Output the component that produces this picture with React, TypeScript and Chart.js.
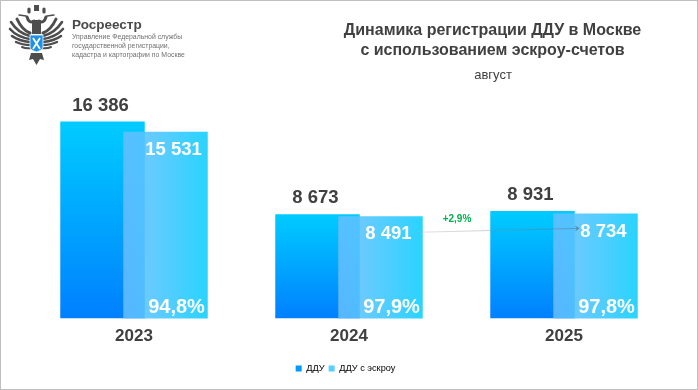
import React, { useEffect, useRef } from "react";
import { Chart, registerables } from "chart.js";

Chart.register(...registerables);

const years = ["2023", "2024", "2025"];
const dduValues = [16386, 8673, 8931];
const escrowValues = [15531, 8491, 8734];
const escrowShare = ["94,8%", "97,9%", "97,8%"];
const dduLabels = ["16 386", "8 673", "8 931"];
const escrowLabels = ["15 531", "8 491", "8 734"];
const seriesNames = ["ДДУ", "ДДУ с эскроу"];
const growthLabel = "+2,9%";
const titleLines = ["Динамика регистрации ДДУ в Москве", "с использованием эскроу-счетов"];
const subtitle = "август";
const orgName = "Росреестр";
const orgLines = ["Управление Федеральной службы", "государственной регистрации,", "кадастра и картографии по Москве"];

const FONT = '"Liberation Sans", Arial, sans-serif';

const labelsPlugin = {
  id: "barLabels",
  afterLayout(chart: any) {
    chart.legend.left -= 3.5;
    chart.legend.right -= 3.5;
  },
  // The escrow bars sit in front of the ДДУ bars: hold them back, then draw them last.
  beforeDatasetDraw(_chart: any, args: any) {
    if (args.index === 1) return false;
  },
  afterDatasetsDraw(chart: any) {
    const { ctx } = chart;
    chart.getDatasetMeta(1).controller.draw();
    const a = chart.getDatasetMeta(0).data;
    const b = chart.getDatasetMeta(1).data;
    ctx.save();
    ctx.textAlign = "center";
    ctx.textBaseline = "middle";
    a.forEach((el: any, i: number) => {
      ctx.fillStyle = "#404040";
      ctx.font = `bold 18.5px ${FONT}`;
      ctx.fillText(dduLabels[i], el.x - 2, el.y - 16);
    });
    // connector between the 2024 and 2025 escrow labels
    const x0 = b[1].x + 35;
    const y0 = b[1].y + 16;
    const x1 = b[2].x - 17;
    const y1 = b[2].y + 15;
    const g = ctx.createLinearGradient(x0, 0, x1, 0);
    g.addColorStop(0, "rgba(170,170,170,0.7)");
    g.addColorStop(1, "rgba(90,100,110,0.9)");
    ctx.strokeStyle = g;
    ctx.lineWidth = 1;
    ctx.setLineDash([1, 1]);
    ctx.beginPath();
    ctx.moveTo(x0, y0);
    ctx.lineTo(x1, y1);
    ctx.stroke();
    ctx.setLineDash([]);
    ctx.beginPath();
    ctx.moveTo(x1 - 3, y1 - 2);
    ctx.lineTo(x1, y1);
    ctx.lineTo(x1 - 3, y1 + 2);
    ctx.stroke();
    ctx.fillStyle = "#00B050";
    ctx.font = `bold 10px ${FONT}`;
    ctx.fillText(growthLabel, (x0 + x1) / 2 - 40, y0 - 13);
    b.forEach((el: any, i: number) => {
      ctx.fillStyle = "#ffffff";
      ctx.font = `bold 18.5px ${FONT}`;
      ctx.fillText(escrowLabels[i], el.x + 8, el.y + 18);
      ctx.font = `bold 20px ${FONT}`;
      ctx.fillText(escrowShare[i], el.x + 11, el.base - 11);
    });
    ctx.restore();
  },
};

function Wing({ flip }: { flip?: boolean }) {
  return (
    <g transform={flip ? "translate(73 0) scale(-1 1)" : undefined} stroke="#4d4d4d" fill="none" strokeLinecap="round">
      <path d="M30 33 Q22 30 17 19" strokeWidth="3" />
      <path d="M30 36 Q18 33 11 22" strokeWidth="2.6" />
      <path d="M30 39 Q17 37 10 29" strokeWidth="2.6" />
      <path d="M30 42 Q19 41 12 36" strokeWidth="2.6" />
      <path d="M31 45 Q22 45 16 42" strokeWidth="2.4" />
      <path d="M32 48 Q26 49 22 47" strokeWidth="2" />
      <path d="M34 21 Q29 24 27 17" strokeWidth="3" />
      <path d="M26 16 L19 15" strokeWidth="1.3" />
      <path d="M29 12 L29 9" strokeWidth="3.2" />
    </g>
  );
}

function Emblem() {
  return (
    <svg width="72" height="70" viewBox="0 0 72 70" style={{ position: "absolute", left: 0, top: 0 }}>
      <Wing />
      <Wing flip />
      <g fill="#4d4d4d">
        <rect x="34" y="5" width="5" height="6" />
        <rect x="32" y="20" width="9" height="14" />
        <path d="M31 53 L42 53 L44 60 L40 59 L36.5 65 L33 59 L29 60 Z" />
      </g>
      <path d="M30 35 L43 35 L43 47 Q43 50 36.5 52 Q30 50 30 47 Z" fill="#1E90E8" stroke="#fff" strokeWidth="0.8" />
      <path d="M33 38 L40 49 M40 38 L33 49" stroke="#fff" strokeWidth="1.8" />
    </svg>
  );
}

export default function App() {
  const ref = useRef<HTMLCanvasElement>(null);
  useEffect(() => {
    const chart = new Chart(ref.current!, {
      type: "bar",
      data: {
        labels: years,
        datasets: [
          {
            label: seriesNames[0],
            data: dduValues,
            backgroundColor: (c: any) => {
              const area = c.chart.chartArea;
              if (!area || c.dataIndex === undefined) return "#0099ff";
              const s = c.chart.scales.y;
              const g = c.chart.ctx.createLinearGradient(0, s.getPixelForValue(dduValues[c.dataIndex]), 0, area.bottom);
              g.addColorStop(0, "#00CCFF");
              g.addColorStop(1, "#0080FF");
              return g;
            },
            borderWidth: 0,
          },
          {
            label: seriesNames[1],
            data: escrowValues,
            backgroundColor: (c: any) => {
              const area = c.chart.chartArea;
              if (!area || c.dataIndex === undefined) return "#5fd0ff";
              const l = c.chart.scales.x.getPixelForValue(c.dataIndex) - 11;
              const g = c.chart.ctx.createLinearGradient(l, 0, l + 85, 0);
              g.addColorStop(0, "rgba(105,190,255,0.85)");
              g.addColorStop(1, "rgba(40,212,255,1)");
              return g;
            },
            borderWidth: 0,
          },
        ],
      },
      options: {
        animation: false,
        responsive: false,
        layout: { padding: { left: 26.5, right: 26.5, top: 78, bottom: 7 } },
        datasets: { bar: { categoryPercentage: 0.586, barPercentage: 1.341 } },
        plugins: {
          title: { display: false },
          tooltip: { enabled: false },
          legend: {
            position: "bottom",
            labels: {
              boxWidth: 6,
              boxHeight: 6,
              padding: 4,
              color: "#6b6b6b",
              font: { family: FONT, size: 9.2 },
              generateLabels: () =>
                seriesNames.map((n, i) => ({
                  text: n,
                  fillStyle: i === 0 ? "#0099FF" : "#55D0FF",
                  strokeStyle: "transparent",
                  lineWidth: 0,
                  datasetIndex: i,
                })),
            },
          },
        },
        scales: {
          x: {
            grid: { display: false },
            border: { display: false },
            ticks: { color: "#404040", font: { family: FONT, size: 17, weight: "bold" }, padding: 0 },
            afterFit: (s: any) => {
              s.height += 13;
            },
          },
          y: { display: false, min: 0, max: 20000 },
        },
      },
      plugins: [labelsPlugin],
    } as any);
    return () => chart.destroy();
  }, []);

  const text: React.CSSProperties = { position: "absolute", fontFamily: FONT, whiteSpace: "nowrap" };
  return (
    <div style={{ position: "absolute", left: 0, top: 0, width: 698, height: 390, background: "#fff", overflow: "hidden" }}>
      <canvas ref={ref} width={698} height={390} style={{ position: "absolute", left: 0, top: 0, display: "block" }} />
      <div style={{ position: "absolute", left: 0, top: 0, width: 698, height: 390, boxSizing: "border-box", border: "1px solid #BFBFBF", pointerEvents: "none" }} />
      <Emblem />
      <div style={{ ...text, left: 72, top: 17, fontSize: 13.5, fontWeight: "bold", color: "#4a4a4a" }}>{orgName}</div>
      {orgLines.map((l, i) => (
        <div key={l} style={{ ...text, left: 72, top: 32 + i * 9, fontSize: 6.9, lineHeight: "9px", color: "#707070" }}>{l}</div>
      ))}
      {titleLines.map((l, i) => (
        <div key={l} style={{ ...text, left: 292.5, width: 400, textAlign: "center", top: 20 + i * 20, fontSize: 16, lineHeight: "20px", fontWeight: "bold", color: "#404040" }}>{l}</div>
      ))}
      <div style={{ ...text, left: 293, width: 400, textAlign: "center", top: 68, fontSize: 13, lineHeight: "14px", color: "#404040" }}>{subtitle}</div>
    </div>
  );
}
